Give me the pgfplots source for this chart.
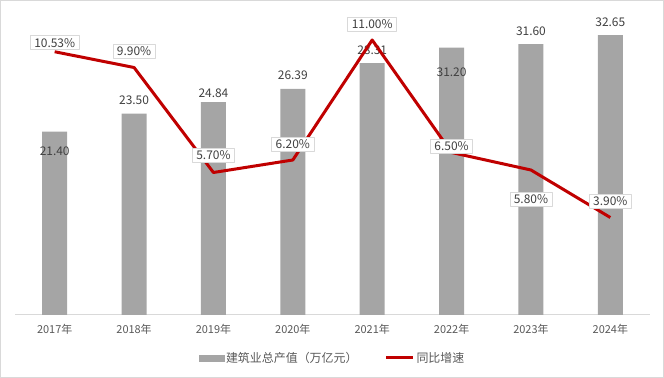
\documentclass[border=0pt]{standalone}
\usepackage{fontspec}
\setmainfont{Noto Sans CJK SC}
\usepackage{pgfplots}
\pgfplotsset{compat=1.18}
\usepackage{pgfplotstable}
\definecolor{barc}{HTML}{A5A5A5}
\definecolor{linec}{HTML}{C00000}
\definecolor{txt}{HTML}{404040}
\definecolor{tickc}{HTML}{595959}
\definecolor{framec}{HTML}{D9D9D9}

% bar heights as drawn; lab = printed label
\pgfplotstableread{
x val lab dy
0 21.40 21.40 -20
1 23.50 23.50 13
2 24.84 24.84 9
3 26.39 26.39 14
4 29.38 28.31 13
5 31.20 31.20 -25
6 31.60 31.60 13
7 32.65 32.65 13
}\bars

\pgfplotstableread{
x val dy
0 10.53 9
1 9.90 16
2 5.70 17
3 6.20 16
4 11.00 16
5 6.50 6
6 5.80 -29
7 3.90 16
}\growth

\begin{document}
\begin{tikzpicture}
\draw[framec, line width=1bp] (0.5bp,0.5bp) rectangle (663.5bp,377.5bp);
\begin{axis}[
  at={(15bp,63bp)}, anchor=south west,
  scale only axis, width=635bp, height=300bp,
  xmin=-0.5, xmax=7.5, ymin=0, ymax=35,
  axis x line=bottom, axis y line=none,
  x axis line style={draw=framec, line width=1bp, -},
  xtick={0,...,7},
  xticklabels={2017年,2018年,2019年,2020年,2021年,2022年,2023年,2024年},
  xtick style={draw=none},
  x tick label style={font=\fontsize{11}{13}\selectfont, text=tickc, yshift=-4bp},
  ytick=\empty,
  clip=false,
]
\addplot[ybar, bar width=25bp, fill=barc, draw=none,
  point meta=explicit symbolic,
  visualization depends on={\thisrow{dy} \as \dy},
  nodes near coords,
  every node near coord/.append style={anchor=center, yshift=\dy bp, text=txt, font=\fontsize{12}{14}\selectfont},
] table[x=x, y=val, meta=lab] {\bars};
\end{axis}
\begin{axis}[
  at={(15bp,63bp)}, anchor=south west,
  scale only axis, width=635bp, height=300bp,
  xmin=-0.5, xmax=7.5, ymin=0, ymax=12,
  hide axis, clip=false,
  legend style={at={(0.5,-0.143)}, anchor=center, draw=none, fill=none,
    font=\fontsize{12}{14}\selectfont, text=tickc,
    /tikz/every even column/.append style={column sep=25bp},
    inner sep=0pt},
  legend columns=2,
]
\addlegendimage{legend image code/.code={\fill[barc] (0bp,-3bp) rectangle (25bp,3bp);}}
\addlegendentry{建筑业总产值（万亿元）}
\addplot[linec, line width=3bp, line join=round, mark=none,
  legend image code/.code={\draw[linec, line width=3bp] (0bp,0bp) -- (27bp,0bp);},
  point meta=explicit symbolic,
  visualization depends on={\thisrow{dy} \as \dy},
  nodes near coords={\pgfplotspointmeta\%},
  every node near coord/.append style={anchor=center, yshift=\dy bp, text=txt,
    font=\fontsize{12}{14}\selectfont, fill=white, draw=framec, line width=0.6bp,
    inner xsep=4bp, inner ysep=2.5bp},
] table[x=x, y=val, meta=val] {\growth};
\addlegendentry{同比增速}
\end{axis}
\end{tikzpicture}
\end{document}
